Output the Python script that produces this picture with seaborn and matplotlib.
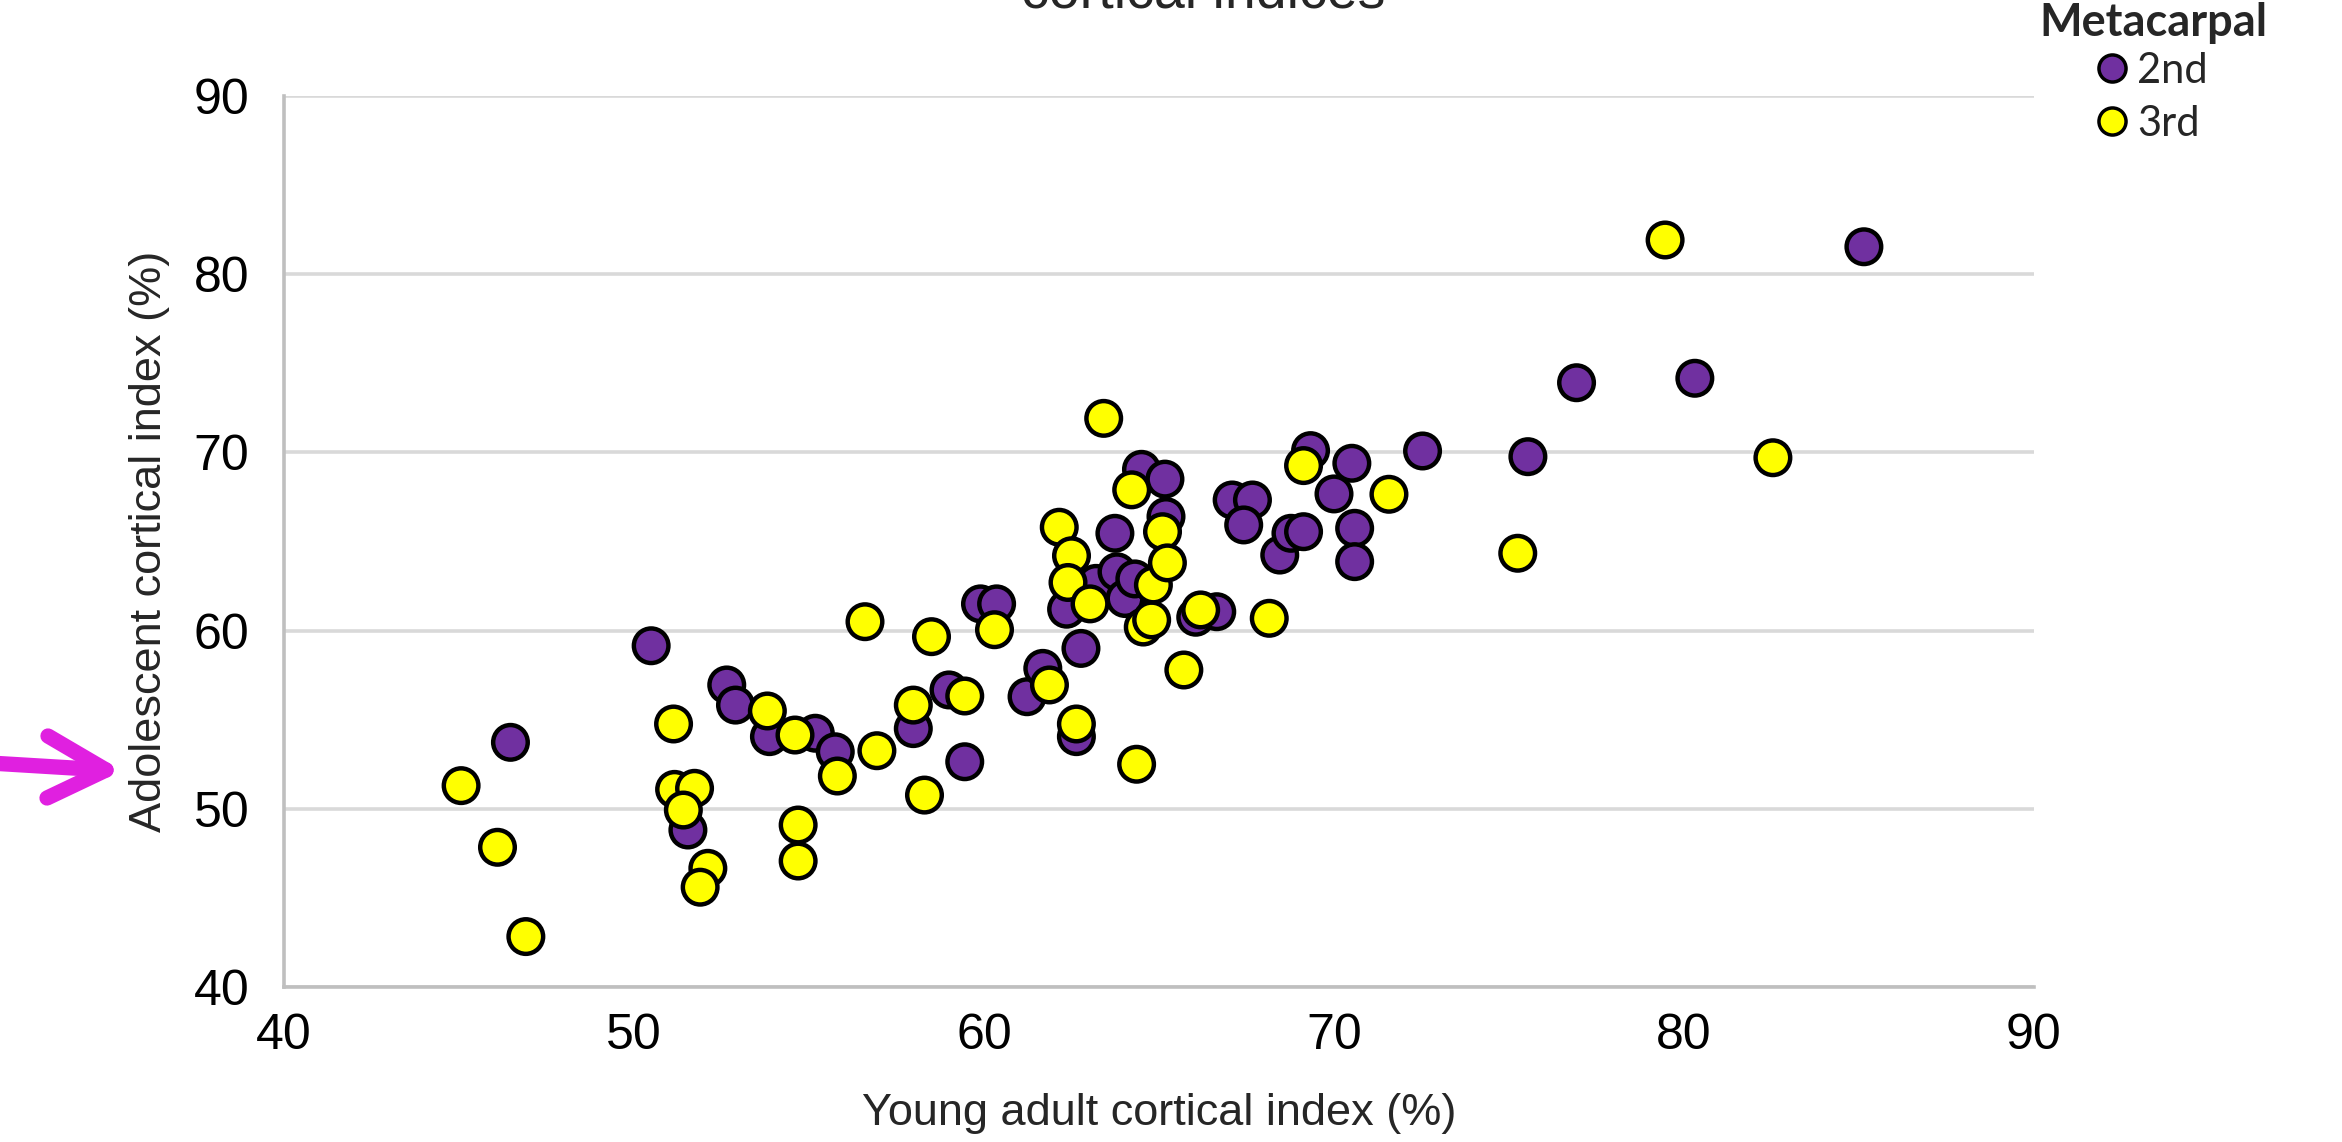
import matplotlib
matplotlib.use("Agg")
import matplotlib.pyplot as plt
from matplotlib.lines import Line2D
from matplotlib.font_manager import FontProperties
import numpy as np
import pandas as pd
import seaborn as sns

# ---- data ----
categories = ["2nd", "3rd"]

x_2nd = [46.47, 50.49, 51.54, 52.65, 52.90, 53.87, 55.18, 55.75, 57.98, 59.00,
         59.45, 59.90, 60.36, 61.23, 61.68, 62.36, 62.64, 62.77, 63.20, 63.74,
         63.80, 64.03, 64.31, 64.50, 65.17, 65.20, 66.05, 66.65, 67.09, 67.67,
         67.42, 68.45, 68.77, 69.13, 69.33, 70.00, 70.51, 70.59, 70.59, 72.53,
         75.54, 76.93, 80.31, 85.14]
y_2nd = [53.73, 59.15, 48.81, 56.95, 55.82, 54.05, 54.24, 53.20, 54.50, 56.67,
         52.64, 61.50, 61.50, 56.29, 57.88, 61.20, 54.05, 59.00, 62.65, 65.46,
         63.30, 61.80, 62.90, 69.05, 68.50, 66.40, 60.75, 61.06, 67.33, 67.33,
         65.93, 64.24, 65.46, 65.55, 70.10, 67.67, 69.39, 65.74, 63.87, 70.08,
         69.76, 73.91, 74.16, 81.54]

x_3rd = [45.06, 46.10, 46.91, 51.13, 51.16, 51.73, 51.41, 52.11, 51.89, 53.81,
         54.60, 55.81, 54.69, 54.69, 56.94, 56.60, 58.50, 57.98, 58.30, 59.45,
         60.30, 61.87, 62.15, 62.50, 62.40, 62.64, 63.03, 63.42, 64.22, 64.36,
         64.55, 64.79, 64.84, 65.10, 65.24, 65.71, 66.19, 68.15, 69.13, 71.57,
         75.25, 79.46, 82.54]
y_3rd = [51.30, 47.84, 42.83, 54.76, 51.09, 51.15, 49.93, 46.66, 45.60, 55.49,
         54.14, 51.84, 49.09, 47.07, 53.26, 60.50, 59.66, 55.82, 50.77, 56.33,
         60.05, 56.95, 65.80, 64.20, 62.70, 54.76, 61.50, 71.91, 67.90, 52.50,
         60.20, 60.60, 62.56, 65.55, 63.80, 57.79, 61.16, 60.69, 69.26, 67.65,
         64.34, 81.92, 69.70]

x_ticks = [40, 50, 60, 70, 80, 90]
y_ticks = [40, 50, 60, 70, 80, 90]

palette = {"2nd": "#7030A0", "3rd": "#FFFF00"}

df = pd.DataFrame({
    "Young adult": x_2nd + x_3rd,
    "Adolescent": y_2nd + y_3rd,
    "Metacarpal": ["2nd"] * len(x_2nd) + ["3rd"] * len(x_3rd),
})

sns.set_style("white")
plt.rcParams["font.family"] = ["Liberation Sans", "DejaVu Sans"]

W, H = 2342, 1142
fig = plt.figure(figsize=(W / 100, H / 100), dpi=100)
L, R, T, B = 284, 2034, 96, 987
ax = fig.add_axes([L / W, 1 - B / H, (R - L) / W, (B - T) / H])

sns.scatterplot(data=df, x="Young adult", y="Adolescent", hue="Metacarpal",
                hue_order=categories, palette=palette, s=620,
                edgecolor="black", linewidth=3.2, legend=False, ax=ax, zorder=3)

ax.set_xlim(40, 90)
ax.set_ylim(40, 90)
ax.set_xticks(x_ticks)
ax.set_yticks(y_ticks)
ax.set_xticklabels([str(t) for t in x_ticks])
ax.set_yticklabels([str(t) for t in y_ticks])
ax.grid(axis="y", color="#D9D9D9", linewidth=2.6)
ax.grid(axis="x", visible=False)
ax.set_axisbelow(True)
for s in ["top", "right"]:
    ax.spines[s].set_visible(False)
for s in ["left", "bottom"]:
    ax.spines[s].set_color("#BFBFBF")
    ax.spines[s].set_linewidth(2.6)
ax.tick_params(axis="both", length=0, labelsize=36, colors="black")
ax.tick_params(axis="x", pad=19)
ax.tick_params(axis="y", pad=25)

ax.set_xlabel("Young adult cortical index (%)", fontsize=32.5)
ax.set_ylabel("Adolescent cortical index (%)", fontsize=32.5)
ax.xaxis.set_label_coords(0.5, (B - 1093) / (B - T))
ax.yaxis.set_label_coords((170 - L) / (R - L), 0.5)

# cut-off title at the top
fig.text(1203 / W, 1 - 8 / H, "cortical indices", ha="center", va="baseline",
         fontsize=40)

# legend: title as text, entries as legend
fig.text(2153 / W, 1 - 36 / H, "Metacarpal", ha="center", va="baseline",
         fontproperties=FontProperties(family="Lato", weight="bold", size=32.5))
handles = [Line2D([], [], marker="o", linestyle="", markerfacecolor=palette[c],
                  markeredgecolor="black", markersize=19.5, markeredgewidth=2.5)
           for c in categories]
ax.legend(handles, categories, loc="upper left",
          bbox_to_anchor=(2093 / W, 1 - 52 / H), bbox_transform=fig.transFigure,
          frameon=False, borderpad=0, borderaxespad=0, handletextpad=0.15,
          labelspacing=0.36, handlelength=0.9,
          prop=FontProperties(family="Lato", size=30))

# magenta pointer arrow (annotation)
pink = "#E020E0"
def fx(p):
    return p / W
def fy(p):
    return 1 - p / H
fig.add_artist(Line2D([fx(-10), fx(106)], [fy(763), fy(770)], color=pink,
                      linewidth=11, solid_capstyle="round",
                      transform=fig.transFigure))
fig.add_artist(Line2D([fx(48), fx(106), fx(47)], [fy(736), fy(770), fy(798)],
                      color=pink, linewidth=11, solid_capstyle="round",
                      solid_joinstyle="round", transform=fig.transFigure))

fig.savefig("out.png", dpi=100)
